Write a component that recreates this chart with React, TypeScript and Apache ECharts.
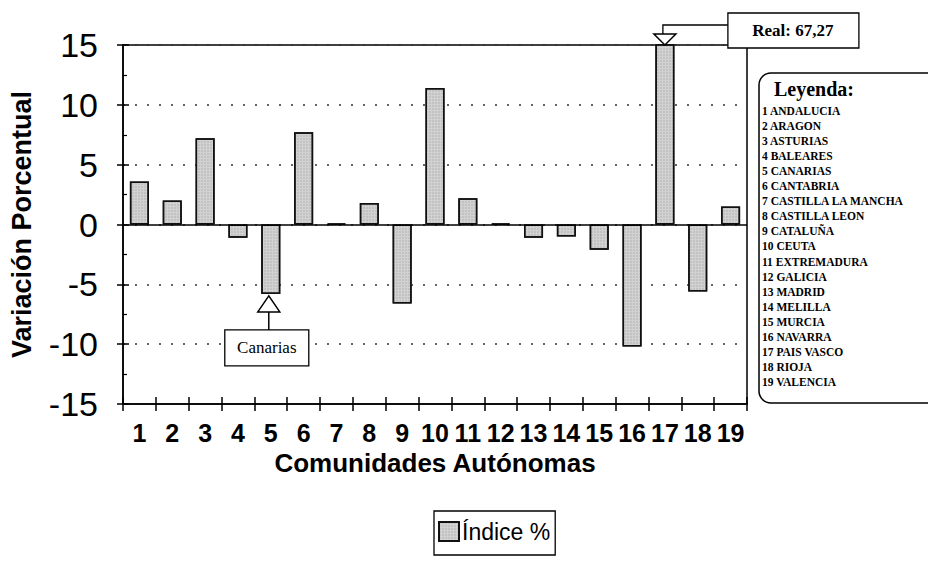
import React, { useEffect, useRef } from "react";
import * as echarts from "echarts";

const categories = ["1","2","3","4","5","6","7","8","9","10","11","12","13","14","15","16","17","18","19"];
const indiceValues = [3.6, 2.0, 7.2, -1.1, -5.8, 7.7, 0.1, 1.8, -6.6, 11.4, 2.2, 0.1, -1.1, -1.0, -2.1, -10.2, 67.27, -5.6, 1.5];
const yTicks = { min: -15, max: 15, interval: 5 };
const leyendaItems = [
  "ANDALUCIA","ARAGON","ASTURIAS","BALEARES","CANARIAS","CANTABRIA","CASTILLA LA MANCHA",
  "CASTILLA LEON","CATALUÑA","CEUTA","EXTREMADURA","GALICIA","MADRID","MELILLA","MURCIA",
  "NAVARRA","PAIS VASCO","RIOJA","VALENCIA",
];
const seriesName = "Índice %";
const realLabel = "Real: 67,27";
const canariasLabel = "Canarias";

const SANS = "'Liberation Sans', Arial, sans-serif";
const SERIF = "'Liberation Serif', 'Times New Roman', serif";

export default function App() {
  const ref = useRef<HTMLDivElement>(null);
  useEffect(() => {
    if (!ref.current) return;
    const chart = echarts.init(ref.current, null, { renderer: "svg" });
    const yBase = {
      type: "value" as const,
      min: yTicks.min,
      max: yTicks.max,
      interval: yTicks.interval,
      position: "left" as const,
    };
    chart.setOption({
      animation: false,
      backgroundColor: "#fff",
      grid: { left: 122, right: 181, top: 45, bottom: 158, show: true, borderColor: "#000", borderWidth: 1.5, backgroundColor: "transparent" },
      legend: {
        data: [seriesName],
        left: 434,
        top: 511,
        borderColor: "#000",
        borderWidth: 1.3,
        padding: [9, 5, 12, 4],
        itemWidth: 20,
        itemHeight: 19,
        icon: "rect",
        itemGap: 4,
        textStyle: { fontSize: 23, fontFamily: SANS, color: "#000", padding: [0, 0, 0, -2] },
      },
      xAxis: [
        {
          type: "category",
          data: categories,
          position: "bottom",
          axisLine: { onZero: false, lineStyle: { color: "#000", width: 1.5 } },
          axisTick: { show: true, length: 7, lineStyle: { color: "#000", width: 1.5 } },
          axisLabel: { interval: 0, margin: 16, fontSize: 25, fontWeight: "bold", fontFamily: SANS, color: "#000" },
          name: "Comunidades Autónomas",
          nameLocation: "middle",
          nameGap: 46,
          nameTextStyle: { fontSize: 26, fontWeight: "bold", fontFamily: SANS, color: "#000" },
        },
        {
          type: "category",
          data: categories,
          position: "bottom",
          axisLine: { onZero: false, show: false },
          axisTick: { show: true, inside: true, length: 7, lineStyle: { color: "#000", width: 1.5 } },
          axisLabel: { show: false },
        },
      ],
      yAxis: [
        {
          ...yBase,
          axisLine: { show: true, lineStyle: { color: "#000", width: 1.5 } },
          axisTick: { show: true, length: 6, lineStyle: { color: "#000", width: 1.5 } },
          axisLabel: { margin: 25, fontSize: 34, fontFamily: SANS, color: "#000" },
          splitLine: { show: true, lineStyle: { color: "#333", type: [2, 10], width: 1.5 } },
          name: "Variación Porcentual",
          nameLocation: "middle",
          nameGap: 88,
          nameTextStyle: { fontSize: 27, fontWeight: "bold", fontFamily: SANS, color: "#000" },
        },
        {
          ...yBase,
          axisLine: { show: false },
          axisTick: { show: true, inside: true, length: 6, lineStyle: { color: "#000", width: 1.5 } },
          minorTick: { show: true, splitNumber: 2, length: 4, lineStyle: { color: "#000", width: 1.2 } },
          axisLabel: { show: false },
          splitLine: { show: false },
        },
      ],
      series: [
        {
          name: seriesName,
          type: "bar",
          data: indiceValues,
          xAxisIndex: 0,
          yAxisIndex: 0,
          barCategoryGap: "42%",
          clip: true,
          itemStyle: {
            color: "#d2d2d2",
            borderColor: "#111",
            borderWidth: 1.5,
            decal: {
              symbol: "rect",
              symbolSize: 0.6,
              dashArrayX: [2, 1],
              dashArrayY: [2, 1],
              color: "rgba(0,0,0,0.25)",
              rotation: 0,
            },
          },
          markLine: {
            silent: true,
            symbol: "none",
            label: { show: false },
            lineStyle: { color: "#000", type: "solid", width: 1.5 },
            data: [{ yAxis: 0 }],
          },
        },
      ],
    });

    const top17 = chart.convertToPixel({ seriesIndex: 0 }, [16, yTicks.max]) as number[];
    const bot5 = chart.convertToPixel({ seriesIndex: 0 }, [4, indiceValues[4]]) as number[];
    const cx = top17[0];
    const ty = top17[1];
    const bx = bot5[0] - 2;
    const by = bot5[1] + 2;

    const legendChildren: any[] = [
      {
        type: "rect",
        shape: { x: 759, y: 73, width: 200, height: 330, r: 12 },
        style: { fill: "none", stroke: "#000", lineWidth: 1.5 },
      },
      {
        type: "text",
        x: 774,
        y: 89,
        style: { text: "Leyenda:", fontSize: 20, fontWeight: "bold", fontFamily: SERIF, fill: "#000", verticalAlign: "middle" },
      },
      ...leyendaItems.map((name, i) => ({
        type: "text",
        x: 762,
        y: 111 + i * 15.05,
        style: { text: `${i + 1} ${name}`, fontSize: 11.5, fontWeight: "bold", fontFamily: SERIF, fill: "#000", verticalAlign: "middle" },
      })),
    ];

    chart.setOption({
      graphic: [
        {
          type: "polygon",
          shape: { points: [[cx - 11, ty - 11], [cx + 11, ty - 11], [cx, ty]] },
          style: { fill: "#fff", stroke: "#000", lineWidth: 1.5 },
          z: 100,
        },
        {
          type: "polyline",
          shape: { points: [[cx - 2, ty - 11], [cx - 2, ty - 20], [cx + 63, ty - 20]] },
          style: { stroke: "#000", lineWidth: 1.3, fill: "none" },
          z: 100,
        },
        {
          type: "rect",
          shape: { x: cx + 63, y: ty - 32, width: 131, height: 35 },
          style: { fill: "#fff", stroke: "#000", lineWidth: 1.3 },
          z: 100,
        },
        {
          type: "text",
          x: cx + 128,
          y: ty - 15,
          style: { text: realLabel, fontSize: 17, fontWeight: "bold", fontFamily: SERIF, fill: "#000", align: "center", verticalAlign: "middle" },
          z: 101,
        },
        {
          type: "polygon",
          shape: { points: [[bx, by], [bx - 11, by + 16], [bx + 11, by + 16]] },
          style: { fill: "#fff", stroke: "#000", lineWidth: 1.5 },
          z: 100,
        },
        {
          type: "line",
          shape: { x1: bx, y1: by + 16, x2: bx, y2: by + 34 },
          style: { stroke: "#000", lineWidth: 1.5 },
          z: 100,
        },
        {
          type: "rect",
          shape: { x: bx - 44, y: by + 34, width: 84, height: 36 },
          style: { fill: "#fff", stroke: "#000", lineWidth: 1.3 },
          z: 100,
        },
        {
          type: "text",
          x: bx - 2,
          y: by + 52,
          style: { text: canariasLabel, fontSize: 17, fontFamily: SERIF, fill: "#000", align: "center", verticalAlign: "middle" },
          z: 101,
        },
        ...legendChildren,
      ],
    });

    return () => chart.dispose();
  }, []);
  return <div ref={ref} style={{ position: "fixed", left: 0, top: 0, width: 928, height: 562 }} />;
}
